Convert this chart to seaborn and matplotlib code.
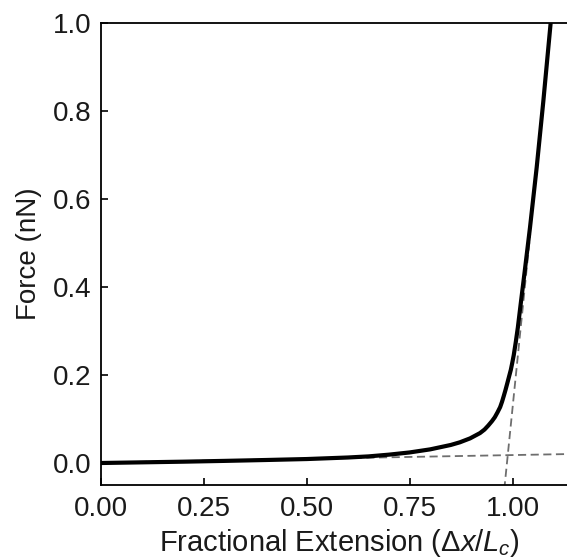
import numpy as np
import pandas as pd
import matplotlib
matplotlib.use("Agg")
import matplotlib.pyplot as plt
import seaborn as sns

# Curve data
extension = [0.0, 0.1, 0.2, 0.3, 0.4, 0.5, 0.6, 0.65, 0.7, 0.75, 0.8, 0.85,
             0.872, 0.897, 0.921, 0.932, 0.941, 0.950, 0.957, 0.9635, 0.970,
             0.9745, 0.979, 0.983, 0.987, 0.9915, 0.996, 0.9995,
             1.003, 1.008, 1.013, 1.020, 1.030, 1.0425, 1.0588, 1.0749, 1.0927]
force = [0.0, 0.0015, 0.003, 0.0048, 0.0068, 0.009, 0.0125, 0.015, 0.019, 0.024,
         0.031, 0.041, 0.047, 0.056, 0.068, 0.076, 0.085, 0.095, 0.104, 0.115,
         0.127, 0.139, 0.153, 0.166, 0.180, 0.196, 0.212, 0.228,
         0.245, 0.275, 0.308, 0.362, 0.438, 0.535, 0.672, 0.822, 1.0]

# Dashed asymptote lines (endpoints)
low_x = [0.0, 1.157]
low_f = [0.001, 0.0207]
high_x = [0.980, 1.043]
high_f = [-0.06, 0.52]

x_ticks = [0.0, 0.25, 0.5, 0.75, 1.0]
x_ticklabels = ["0.00", "0.25", "0.50", "0.75", "1.00"]
y_ticks = [0.0, 0.2, 0.4, 0.6, 0.8, 1.0]
y_ticklabels = ["0.0", "0.2", "0.4", "0.6", "0.8", "1.0"]

sns.set_style("ticks")
plt.rcParams["font.family"] = ["Liberation Sans", "DejaVu Sans"]
plt.rcParams["mathtext.fontset"] = "custom"
plt.rcParams["mathtext.rm"] = "Liberation Sans"
plt.rcParams["mathtext.it"] = "Liberation Sans:italic"

XMAX = 1.157
fig = plt.figure(figsize=(5.67, 5.59), dpi=100)
ax = fig.add_axes([101 / 567, 74 / 559, (XMAX * 411.5) / 567, 462 / 559])

curve = pd.DataFrame({"x": extension, "F": force})
low = pd.DataFrame({"x": low_x, "F": low_f})
high = pd.DataFrame({"x": high_x, "F": high_f})

dash_kw = dict(color="#6e6e6e", linewidth=1.3, dashes=(4.5, 2.5), zorder=2)
sns.lineplot(data=low, x="x", y="F", ax=ax, **dash_kw)
sns.lineplot(data=high, x="x", y="F", ax=ax, sort=False, **dash_kw)
sns.lineplot(data=curve, x="x", y="F", ax=ax, color="black", linewidth=3.0,
             solid_capstyle="butt", solid_joinstyle="round", zorder=3)

ax.set_xlim(0, XMAX)
ax.set_ylim(-0.05, 1.0)
ax.set_xticks(x_ticks)
ax.set_xticklabels(x_ticklabels)
ax.set_yticks(y_ticks)
ax.set_yticklabels(y_ticklabels)

for side in ["left", "bottom", "top", "right"]:
    ax.spines[side].set_linewidth(1.3)
    ax.spines[side].set_color("black")

ax.tick_params(direction="in", length=5, width=1.2, labelsize=20, pad=7,
               colors="black", labelcolor="#1a1a1a")
ax.tick_params(axis="x", pad=8)

ax.set_xlabel(r"Fractional Extension ($\Delta x/L_c$)", fontsize=21,
              labelpad=3.5, color="#1a1a1a")
ax.set_ylabel("Force (nN)", fontsize=20, labelpad=8, color="#1a1a1a")

fig.savefig("out.png", dpi=100)
